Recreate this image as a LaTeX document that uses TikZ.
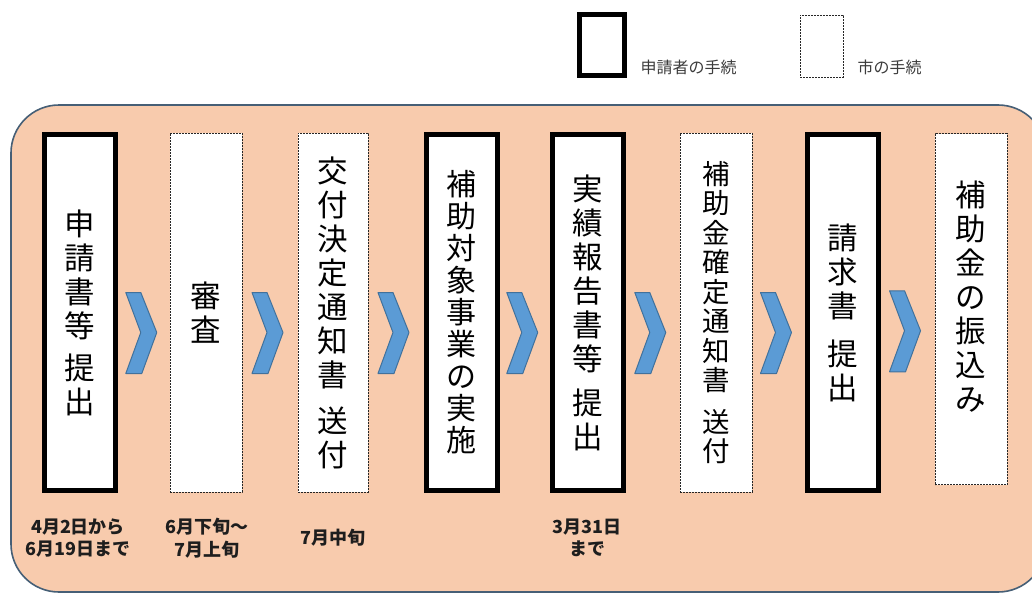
\documentclass[tikz,border=0pt]{standalone}
\usepackage{fontspec}
\newfontfamily\jp{Noto Sans CJK JP}
\usetikzlibrary{calc}
\definecolor{peach}{RGB}{248,203,173}
\definecolor{frameline}{RGB}{70,95,118}
\definecolor{chevfill}{RGB}{91,155,213}
\definecolor{chevline}{RGB}{65,113,156}
\definecolor{legtext}{RGB}{60,60,60}
\definecolor{datetext}{RGB}{30,30,30}
\tikzset{
  applicant/.style={draw=black, line width=5pt, fill=white, minimum width=71pt,
    minimum height=356pt, inner sep=0pt, align=center,
    font=\jp\fontsize{30.5}{34}\selectfont},
  city/.style={draw=black!85, line width=0.9pt, dash pattern=on 2pt off 1pt,
    fill=white, minimum width=72pt, minimum height=359pt, inner sep=0pt,
    align=center, font=\jp\fontsize{30.5}{34}\selectfont},
  steptext/.style={align=center, inner sep=0pt, font=\jp\fontsize{30.5}{34}\selectfont},
  chev/.style={fill=chevfill, draw=chevline, line width=1pt, line join=round},
  datelabel/.style={align=center, text=datetext,
    font=\jp\bfseries\fontsize{18}{22.5}\selectfont},
  legendlabel/.style={anchor=west, text=legtext, font=\jp\fontsize{16}{18}\selectfont}
}
\newcommand{\chevronat}[1]{%
  \draw[chev] ($(#1)+(-17,-40)$) -- ($(#1)+(-2,-40)$) -- ($(#1)+(14,0)$)
    -- ($(#1)+(-1,41)$) -- ($(#1)+(-17,41)$) -- ($(#1)+(-2,0)$) -- cycle;}
\begin{document}
\begin{tikzpicture}[x=1pt,y=-1pt]
\useasboundingbox (0,0) rectangle (1032,594);
\fill[white] (0,0) rectangle (1032,594);

% legend
\node[draw=black, line width=5pt, minimum width=45pt, minimum height=61pt, inner sep=0pt] (lg1) at (602,45) {};
\node[legendlabel] (lg1t) at (637,67) {申請者の手続};
\node[draw=black!85, line width=0.9pt, dash pattern=on 2pt off 1pt, minimum width=43pt, minimum height=62pt, inner sep=0pt] (lg2) at (821.5,46) {};
\node[legendlabel] (lg2t) at (854,67) {市の手続};

% background panel
\draw[fill=peach, draw=frameline, line width=1.6pt, rounded corners=48pt] (11,105) rectangle (1046,592);

% steps
\node[applicant] (b1) at (80,312.5) {申\\請\\書\\等\\[8pt]提\\出};
\node[city] (b2) at (206,312.5) {審\\査};
\node[city, minimum width=70pt] (b3) at (333,312.5) {交\\付\\決\\定\\通\\知\\書\\[12pt]送\\付};
\node[applicant, font=\jp\fontsize{30}{32}\selectfont] (b4) at (461.5,312.5) {補\\助\\対\\象\\事\\業\\の\\実\\施};
\node[applicant] (b5) at (588,312.5) {実\\績\\報\\告\\書\\等\\[10pt]提\\出};
\node[city, font=\jp\fontsize{27.5}{29.5}\selectfont] (b6) at (716,312.5) {補\\助\\金\\確\\定\\通\\知\\書\\[12pt]送\\付};
\node[applicant] (b7) at (842.5,312.5) {請\\求\\書\\[14pt]提\\出};
\node[city, minimum height=351pt] (b8) at (971,309) {};
\node[steptext] (b8t) at (971,297) {補\\助\\金\\の\\振\\込\\み};

% chevrons between steps
\foreach \a/\b [count=\i] in {b1/b2,b2/b3,b3/b4,b4/b5,b5/b6,b6/b7,b7/b8} {
  \coordinate (m\i) at ($(\a.east)!0.5!(\b.west)$);
  \coordinate (c\i) at ($(m\i)+(-1,20)$);
  \chevronat{c\i}
}

% dates
\node[datelabel] (d1) at (78,538) {4月2日から\\6月19日まで};
\node[datelabel] (d2) at (207,538) {6月下旬～\\7月上旬};
\node[datelabel] (d3) at (333,538) {7月中旬};
\node[datelabel] (d5) at (587,538) {3月31日\\まで};
\end{tikzpicture}
\end{document}
